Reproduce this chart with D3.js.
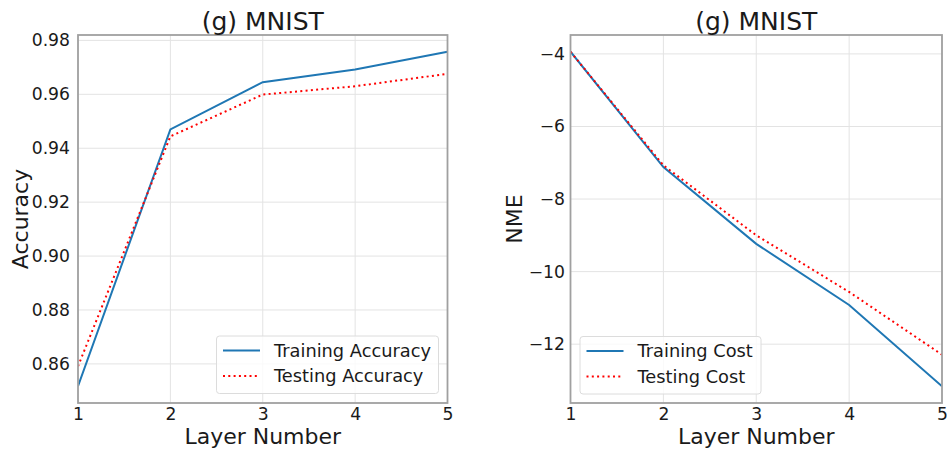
<!DOCTYPE html>
<html><head><meta charset="utf-8">
<script src="https://cdn.jsdelivr.net/npm/d3@7"></script>
<style>body{margin:0;background:#fff}svg{display:block}text{font-family:"DejaVu Sans",sans-serif;fill:#1a1a1a}</style>
</head><body><svg id="c" width="947" height="455"></svg>
<script>
const layers = [1, 2, 3, 4, 5];
const trainAcc = [0.8517, 0.9470, 0.9645, 0.9692, 0.9758];
const testAcc  = [0.8591, 0.9444, 0.9599, 0.9630, 0.9676];
const trainCost = [-3.94, -7.12, -9.235, -10.92, -13.16];
const testCost  = [-3.94, -7.07, -9.00, -10.56, -12.29];
const accTicks = [0.86, 0.88, 0.90, 0.92, 0.94, 0.96, 0.98];
const costTicks = [-12, -10, -8, -6, -4];
const titles = ["(g) MNIST", "(g) MNIST"];
const yLabels = ["Accuracy", "NME"];
const xLabel = "Layer Number";
const accLegend = ["Training Accuracy", "Testing Accuracy"];
const costLegend = ["Training Cost", "Testing Cost"];

const svg = d3.select("#c");
function pad(a){const lo=d3.min(a),hi=d3.max(a),m=(hi-lo)*0.05;return [lo-m,hi+m];}

function panel(cfg){
  const {x0,x1,y0,y1,train,test,ticks,fmt,title,ylab,ylabX,legend,leg,ypad} = cfg;
  const g = svg.append("g");
  const x = d3.scaleLinear().domain([1,5]).range([x0,x1]);
  const y = d3.scaleLinear().domain(pad(train.concat(test))).range([y1,y0]);
  // grid
  g.selectAll(".gx").data(layers).enter().append("line")
    .attr("x1",d=>x(d)).attr("x2",d=>x(d)).attr("y1",y0).attr("y2",y1)
    .attr("stroke","#e3e3e3").attr("stroke-width",1);
  g.selectAll(".gy").data(ticks).enter().append("line")
    .attr("x1",x0).attr("x2",x1).attr("y1",d=>y(d)).attr("y2",d=>y(d))
    .attr("stroke","#e3e3e3").attr("stroke-width",1);
  // axes
  const ax = g.append("g").attr("transform",`translate(0,${y1})`)
    .call(d3.axisBottom(x).tickValues(layers).tickFormat(d3.format("d")).tickSize(0).tickPadding(5));
  const ay = g.append("g").attr("transform",`translate(${x0},0)`)
    .call(d3.axisLeft(y).tickValues(ticks).tickFormat(fmt).tickSize(0).tickPadding(ypad));
  [ax,ay].forEach(a=>{
    a.select(".domain").remove();
    a.selectAll("line").remove();
    a.selectAll("text").attr("font-size",17.2).attr("fill","#1a1a1a").style("font-family","DejaVu Sans");
  });
  // lines
  const line = d3.line().x((d,i)=>x(layers[i])).y(d=>y(d));
  const clip = "clip"+x0;
  g.append("clipPath").attr("id",clip).append("rect").attr("x",x0).attr("y",y0).attr("width",x1-x0).attr("height",y1-y0);
  g.append("path").datum(train).attr("d",line).attr("fill","none").attr("stroke","#1f77b4").attr("stroke-width",2).attr("clip-path",`url(#${clip})`);
  g.append("path").datum(test).attr("d",line).attr("fill","none").attr("stroke","#ff0000").attr("stroke-width",2).attr("stroke-dasharray","2,3.3").attr("clip-path",`url(#${clip})`);
  // frame
  g.append("rect").attr("x",x0).attr("y",y0).attr("width",x1-x0).attr("height",y1-y0)
    .attr("fill","none").attr("stroke","#a0a0a0").attr("stroke-width",1.8);
  // title & labels
  g.append("text").attr("x",(x0+x1)/2).attr("y",30).attr("text-anchor","middle").attr("font-size",25).text(title);
  g.append("text").attr("x",(x0+x1)/2).attr("y",444).attr("text-anchor","middle").attr("font-size",22).text(xLabel);
  g.append("text").attr("transform",`translate(${ylabX},${(y0+y1)/2}) rotate(-90)`).attr("text-anchor","middle").attr("font-size",22).text(ylab);
  // legend
  const lg = g.append("g");
  lg.append("rect").attr("x",leg.x).attr("y",leg.y).attr("width",leg.w).attr("height",leg.h).attr("rx",3)
    .attr("fill","#fff").attr("fill-opacity",0.8).attr("stroke","#dcdcdc");
  const styles = [{c:"#1f77b4",d:null},{c:"#ff0000",d:"2,3.3"}];
  legend.forEach((t,i)=>{
    const cy = leg.y + 14.5 + i*25.5;
    const l = lg.append("line").attr("x1",leg.x+6.5).attr("x2",leg.x+43.5).attr("y1",cy).attr("y2",cy)
      .attr("stroke",styles[i].c).attr("stroke-width",2);
    if(styles[i].d) l.attr("stroke-dasharray",styles[i].d);
    lg.append("text").attr("x",leg.x+57.5).attr("y",cy+6.3).attr("font-size",17.8).text(t);
  });
}

panel({x0:78,x1:447.5,y0:35,y1:403,train:trainAcc,test:testAcc,ticks:accTicks,
  fmt:d3.format(".2f"),title:titles[0],ylab:yLabels[0],ylabX:28,legend:accLegend,ypad:8,
  leg:{x:216.5,y:336,w:222,h:57.5}});
panel({x0:570.5,x1:942,y0:35,y1:403,train:trainCost,test:testCost,ticks:costTicks,
  fmt:d=>(d<0?"\u2212":"")+Math.abs(d),title:titles[1],ylab:yLabels[1],ylabX:522,legend:costLegend,ypad:5.5,
  leg:{x:580,y:336.5,w:181,h:57.5}});
</script></body></html>
